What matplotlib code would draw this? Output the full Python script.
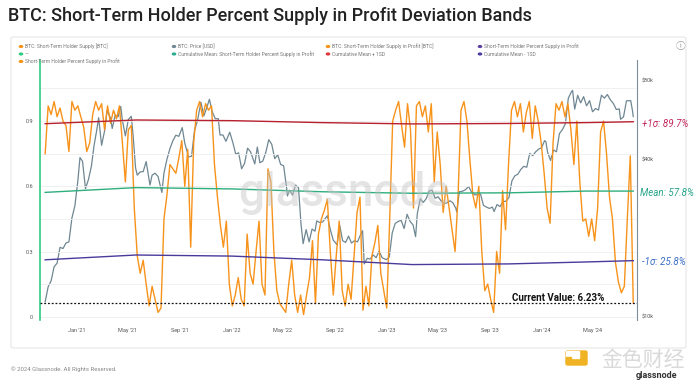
import matplotlib
matplotlib.use("Agg")
import matplotlib.pyplot as plt
from matplotlib.patches import FancyBboxPatch, Rectangle, Circle
import pandas as pd

# ---------------- data ----------------
sth_start = "2020-10-18"
sth_pct = [
    .75, .97, .93, .99, .92, .96, .90, .88, .76, .99, .95, .97, .92, .87, .76, .80, .93, .99, .95, .98,
    .86, .97, .89, .95, .91, .97, .80, .62, .86, .88, .50, .28, .20, .26, .15, .05, .14, .08, .02, .04,
    .45, .56, .70, .68, .66, .73, .81, .60, .77, .32, .80, .95, .99, .92, .98, .95, .97, .70, .55, .42,
    .32, .44, .15, .05, .10, .18, .08, .05, .38, .20, .15, .30, .44, .15, .10, .68, .62, .30, .12, .06,
    .04, .02, .15, .26, .10, .02, .10, .01, .10, .18, .35, .06, .38, .45, .49, .54, .30, .10, .28, .44,
    .12, .05, .15, .08, .28, .48, .55, .03, .14, .05, .28, .34, .42, .20, .12, .04, .45, .90, .95, .99,
    .88, .78, .98, .86, .50, .97, .99, .92, .97, .85, .98, .62, .85, .70, .48, .60, .50, .40, .30, .55,
    .95, .99, .90, .72, .56, .50, .60, .30, .12, .15, .08, .02, .30, .20, .58, .40, .70, .95, .99, .92,
    .98, .85, .94, .99, .82, .97, .90, .80, .66, .50, .43, .80, .98, .95, .99, .92, .98, .86, .70, .90,
    .62, .44, .45, .37, .45, .35, .50, .85, .90, .75, .55, .45, .25, .16, .11, .14, .45, .74, .0623,
]

price_dates = [
    "2020-10-18", "2020-10-25", "2020-11-01", "2020-11-08", "2020-11-15", "2020-11-22", "2020-11-29",
    "2020-12-06", "2020-12-13", "2020-12-20", "2020-12-27", "2021-01-03", "2021-01-08", "2021-01-14",
    "2021-01-21", "2021-01-28", "2021-02-04", "2021-02-10", "2021-02-17", "2021-02-21", "2021-02-28",
    "2021-03-07", "2021-03-13", "2021-03-21", "2021-03-25", "2021-04-01", "2021-04-08", "2021-04-14",
    "2021-04-18", "2021-04-25", "2021-05-02", "2021-05-09", "2021-05-13", "2021-05-19", "2021-05-23",
    "2021-05-30", "2021-06-06", "2021-06-13", "2021-06-22", "2021-06-27", "2021-07-04", "2021-07-11",
    "2021-07-20", "2021-07-25", "2021-08-01", "2021-08-08", "2021-08-15", "2021-08-22", "2021-08-29",
    "2021-09-06", "2021-09-12", "2021-09-21", "2021-09-28", "2021-10-05", "2021-10-12", "2021-10-20",
    "2021-10-27", "2021-11-03", "2021-11-09", "2021-11-16", "2021-11-23", "2021-11-30", "2021-12-04",
    "2021-12-11", "2021-12-18", "2021-12-27", "2022-01-03", "2022-01-10", "2022-01-17", "2022-01-24",
    "2022-01-31", "2022-02-07", "2022-02-14", "2022-02-24", "2022-03-02", "2022-03-08", "2022-03-15",
    "2022-03-22", "2022-03-29", "2022-04-05", "2022-04-12", "2022-04-19", "2022-04-26", "2022-05-03",
    "2022-05-10", "2022-05-12", "2022-05-17", "2022-05-24", "2022-05-31", "2022-06-07", "2022-06-13",
    "2022-06-18", "2022-06-25", "2022-07-02", "2022-07-09", "2022-07-16", "2022-07-20", "2022-07-27",
    "2022-08-03", "2022-08-14", "2022-08-21", "2022-08-28", "2022-09-06", "2022-09-12", "2022-09-19",
    "2022-09-26", "2022-10-03", "2022-10-10", "2022-10-17", "2022-10-24", "2022-10-31", "2022-11-05",
    "2022-11-09", "2022-11-16", "2022-11-23", "2022-11-30", "2022-12-07", "2022-12-14", "2022-12-21",
    "2022-12-31", "2023-01-07", "2023-01-14", "2023-01-21", "2023-01-28", "2023-02-04", "2023-02-11",
    "2023-02-18", "2023-02-25", "2023-03-04", "2023-03-10", "2023-03-14", "2023-03-21", "2023-03-28",
    "2023-04-04", "2023-04-11", "2023-04-18", "2023-04-25", "2023-05-02", "2023-05-09", "2023-05-16",
    "2023-05-23", "2023-05-30", "2023-06-06", "2023-06-13", "2023-06-15", "2023-06-21", "2023-06-28",
    "2023-07-05", "2023-07-13", "2023-07-20", "2023-07-27", "2023-08-03", "2023-08-10", "2023-08-17",
    "2023-08-24", "2023-08-31", "2023-09-07", "2023-09-11", "2023-09-18", "2023-09-25", "2023-10-02",
    "2023-10-09", "2023-10-16", "2023-10-23", "2023-10-30", "2023-11-06", "2023-11-13", "2023-11-20",
    "2023-11-27", "2023-12-04", "2023-12-11", "2023-12-18", "2023-12-25", "2024-01-01", "2024-01-08",
    "2024-01-11", "2024-01-15", "2024-01-22", "2024-01-29", "2024-02-05", "2024-02-12", "2024-02-19",
    "2024-02-26", "2024-03-04", "2024-03-11", "2024-03-14", "2024-03-19", "2024-03-26", "2024-04-02",
    "2024-04-09", "2024-04-16", "2024-04-23", "2024-04-30", "2024-05-07", "2024-05-14", "2024-05-21",
    "2024-05-28", "2024-06-04", "2024-06-11", "2024-06-18", "2024-06-25", "2024-07-02", "2024-07-05",
    "2024-07-12", "2024-07-19", "2024-07-29", "2024-08-02", "2024-08-04",
]
price_usd = [
    11400, 13000, 13700, 15500, 16000, 18400, 18200, 19100, 19300, 23800, 26500, 33000, 40500, 39200,
    30800, 33400, 37600, 44800, 52100, 57500, 45100, 51200, 61200, 57400, 52300, 58800, 58000, 63500,
    56200, 49000, 56600, 58200, 49700, 37000, 34700, 35700, 35800, 39100, 31800, 34700, 35300, 34300,
    29800, 35400, 39900, 43800, 47000, 49300, 48800, 52700, 46000, 40700, 41000, 51500, 56000, 65900,
    58400, 62900, 67600, 60400, 57000, 57000, 49400, 49400, 46700, 50600, 46400, 41800, 42200, 36700,
    38500, 44000, 42600, 38300, 44400, 38700, 39300, 42400, 47400, 45500, 40100, 41500, 38100, 37700,
    31000, 28900, 30400, 29100, 31800, 31100, 22500, 19000, 21500, 19300, 21600, 21200, 23200, 22900,
    23000, 24300, 21500, 19600, 18800, 22400, 19500, 19200, 20300, 19100, 19500, 19300, 20500, 21300,
    15900, 16700, 16600, 17200, 16800, 17800, 16800, 16500, 16900, 20900, 22700, 23100, 23300, 21700,
    24600, 23100, 22400, 20200, 24700, 28200, 27300, 28200, 30200, 30400, 28300, 28700, 27700, 27000,
    27200, 27700, 27200, 25900, 25100, 30000, 30100, 30500, 31400, 29900, 29200, 29200, 29400, 26600,
    26200, 25900, 26200, 25200, 26800, 26300, 27500, 27600, 28500, 33000, 34500, 35000, 36500, 37500,
    37200, 42000, 41200, 42600, 43600, 44200, 47000, 46600, 42500, 39500, 43300, 42600, 50000, 51800,
    54500, 68300, 72100, 73100, 62000, 70000, 65500, 69200, 63800, 66800, 60600, 62300, 61500, 70100,
    68300, 70500, 67300, 65200, 61800, 62100, 56700, 57900, 66700, 66800, 61400, 58100,
]

band_dates = ["2020-10-18", "2021-05-20", "2022-01-01", "2022-08-01", "2023-03-01",
              "2023-10-15", "2024-04-15", "2024-08-04"]
band_plus = [0.888, 0.905, 0.902, 0.893, 0.887, 0.889, 0.893, 0.897]
band_mean = [0.572, 0.594, 0.588, 0.575, 0.568, 0.570, 0.578, 0.578]
band_minus = [0.262, 0.284, 0.279, 0.262, 0.240, 0.243, 0.252, 0.258]
current_value = 0.0623

x_ticks = ["2021-01-01", "2021-05-01", "2021-09-01", "2022-01-01", "2022-05-01", "2022-09-01",
           "2023-01-01", "2023-05-01", "2023-09-01", "2024-01-01", "2024-05-01"]
x_tick_labels = ["Jan '21", "May '21", "Sep '21", "Jan '22", "May '22", "Sep '22",
                 "Jan '23", "May '23", "Sep '23", "Jan '24", "May '24"]

# ---------------- figure ----------------
W, H = 700, 386
fig = plt.figure(figsize=(W / 100, H / 100), dpi=100)
plt.rcParams['font.family'] = ['Roboto', 'DejaVu Sans']

def fx(px):
    return px / W

def fy(py):
    return 1 - py / H

# outer border
fig.patches.append(FancyBboxPatch((fx(11), fy(348)), fx(686) - fx(11), fy(37) - fy(348),
                                  boxstyle="round,pad=0,rounding_size=0.004",
                                  transform=fig.transFigure, fill=False,
                                  edgecolor="#e6e6e6", linewidth=0.8))

fig.text(fx(8), fy(16), "BTC: Short-Term Holder Percent Supply in Profit Deviation Bands",
         fontsize=13, fontweight="medium", color="#222222", va="center", ha="left")

ax_l, ax_r, ax_t, ax_b = 40, 637, 60, 320
ax = fig.add_axes([fx(ax_l), fy(ax_b), fx(ax_r) - fx(ax_l), fy(ax_t) - fy(ax_b)])
ax2 = ax.twinx()
ax.set_zorder(ax2.get_zorder() + 1)
ax.patch.set_visible(False)

sth_dates = pd.date_range(sth_start, periods=len(sth_pct), freq="7D")
pdates = pd.to_datetime(price_dates)
bdates = pd.to_datetime(band_dates)

ax2.plot(pdates, price_usd, color="#6f8792", lw=0.9)
ax2.set_yscale("log")
ax2.set_ylim(9710, 95500)
ax2.set_yticks([10000, 40000, 80000])
ax2.set_yticklabels(["$10k", "$40k", "$80k"])
ax2.yaxis.set_minor_locator(matplotlib.ticker.NullLocator())
ax2.tick_params(axis="y", length=0, labelsize=4, labelcolor="#555555", pad=3)

ax.plot(sth_dates, sth_pct, color="#f7931a", lw=1.0, zorder=3)
ax.plot(bdates, band_plus, color="#b8202e", lw=1.0, zorder=4)
ax.plot(bdates, band_mean, color="#2fae7e", lw=1.0, zorder=4)
ax.plot(bdates, band_minus, color="#4a3a9c", lw=1.0, zorder=4)
ax.axhline(current_value, color="#111111", lw=0.9, ls=(0, (1.5, 1.5)), zorder=5)

ax.set_ylim(-0.015, 1.181)
xmin = pd.Timestamp("2021-01-01") + pd.Timedelta(days=(ax_l - 77) / 0.4243)
xmax = pd.Timestamp("2021-01-01") + pd.Timedelta(days=(ax_r - 77) / 0.4243)
ax.set_xlim(xmin, xmax)

ax.set_yticks([0, 0.3, 0.6, 0.9])
ax.set_yticklabels(["0", "0.3", "0.6", "0.9"])
ax.set_yticks([0.15, 0.45, 0.75, 1.05], minor=True)
ax.grid(True, which="both", axis="y", color="#eeeeee", lw=0.6, zorder=0)
ax.tick_params(axis="y", which="both", length=0, labelsize=4, labelcolor="#555555", pad=5)

ax.set_xticks(pd.to_datetime(x_ticks))
ax.set_xticklabels(x_tick_labels)
ax.tick_params(axis="x", length=0, labelsize=4, labelcolor="#555555", pad=6)

for a in (ax, ax2):
    for s in ("top", "bottom", "left", "right"):
        a.spines[s].set_visible(False)
ax.spines["left"].set_visible(True)
ax.spines["left"].set_color("#2ecc80")
ax.spines["left"].set_linewidth(1.2)
ax2.spines["right"].set_visible(True)
ax2.spines["right"].set_color("#7d8e98")
ax2.spines["right"].set_linewidth(0.8)

# watermark
ax.text(0.51, 0.49, "glassnode", transform=ax.transAxes, fontsize=33, color="#c4c4c4",
        alpha=0.45, ha="center", va="center", fontweight="medium", zorder=6)

# current value
fig.text(fx(512), fy(298), "Current Value: 6.23%", fontsize=7, fontweight="bold",
         color="#111111", ha="left", va="center", zorder=10)

# band labels
fig.text(fx(642), fy(124), "+1σ: 89.7%", fontsize=7, style="italic", color="#c4285a",
         ha="left", va="center")
fig.text(fx(640), fy(193), "Mean: 57.8%", fontsize=7, style="italic", color="#27a58a",
         ha="left", va="center")
fig.text(fx(642), fy(262), "-1σ: 25.8%", fontsize=7, style="italic", color="#3b6fc9",
         ha="left", va="center")

# legend
legend_items = [
    ("BTC: Short-Term Holder Supply [BTC]", "#f7931a", 21, 46.5),
    ("BTC: Price [USD]", "#6f8792", 174, 46.5),
    ("BTC: Short-Term Holder Supply in Profit [BTC]", "#f7931a", 328, 46.5),
    ("Short-Term Holder Percent Supply in Profit", "#5b3fa0", 480, 46.5),
    ("—", "#2ecc80", 21, 54),
    ("Cumulative Mean: Short-Term Holder Percent Supply in Profit", "#27ae8f", 174, 54),
    ("Cumulative Mean + 1SD", "#e0353c", 328, 54),
    ("Cumulative Mean - 1SD", "#4a3a9c", 480, 54),
    ("Short-Term Holder Percent Supply in Profit", "#f7931a", 21, 61.5),
]
for label, col, lx, ly in legend_items:
    fig.patches.append(Circle((fx(lx), fy(ly)), radius=1.6 / W,
                              transform=fig.transFigure, color=col))
    fig.text(fx(lx + 4), fy(ly), label, fontsize=3.6, color="#777777", ha="left", va="center")
fig.text(fx(681), fy(46), "ⓘ", fontsize=7, color="#999999", ha="center", va="center",
         family=["Noto Sans CJK SC", "DejaVu Sans"])

# footer
fig.text(fx(11), fy(369), "© 2024 Glassnode. All Rights Reserved.", fontsize=4.3,
         color="#888888", ha="left", va="center")
fig.patches.append(FancyBboxPatch((fx(566), fy(365)), fx(21), fy(0) - fy(14),
                                  boxstyle="round,pad=0,rounding_size=0.003",
                                  transform=fig.transFigure, color="#f0b323"))
fig.patches.append(Rectangle((fx(566), fy(358)), fx(13), fy(0) - fy(7),
                             transform=fig.transFigure, color="white"))
fig.patches.append(Rectangle((fx(566), fy(361)), fx(5), fy(0) - fy(4),
                             transform=fig.transFigure, color="#f0b323"))
fig.text(fx(643), fy(360), "金色财经", fontsize=15, color="#d9d9d9", ha="center", va="center",
         family=["Noto Sans CJK SC"])
fig.text(fx(657), fy(376), "glassnode", fontsize=6.5, color="#333333", ha="center",
         va="center", fontweight="bold")

fig.savefig("out.png", dpi=100)
